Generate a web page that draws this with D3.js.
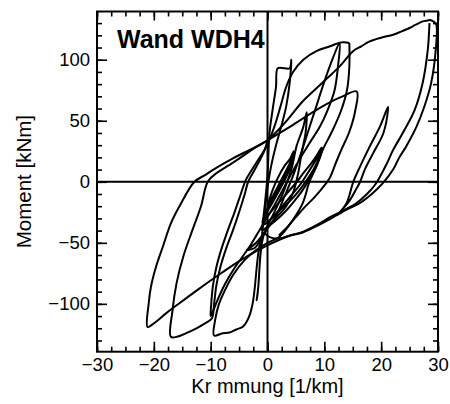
<!DOCTYPE html>
<html><head><meta charset="utf-8">
<script src="https://cdn.jsdelivr.net/npm/d3@7"></script>
<style>body{margin:0;background:#fff}svg{display:block}text{font-family:"Liberation Sans",Arial,sans-serif;fill:#000}</style>
</head><body>
<script>
const xTicks=[-30,-20,-10,0,10,20,30];
const yTicks=[-100,-50,0,50,100];
const chartTitle="Wand WDH4";
const xTitle="Kr mmung [1/km]";
const yTitle="Moment [kNm]";

const smallCycles=[[0,-20],[0.8,-8],[1.8,3],[3,13],[4,19],[4.6,25],[4.3,18],[3.5,9],[2.5,0],[1.4,-10],[0.3,-20],[-0.5,-28],[-0.9,-33],[-0.3,-25],[0.6,-15],[1.7,-5],[2.8,5],[3.8,14],[4.7,23],[4.2,14],[3.3,4],[2.2,-6],[1,-16],[-0.2,-26],[-0.8,-32],[0.5,-25],[2,-17],[3.5,-9],[5,-1],[6.3,7],[7.5,14],[8.6,21],[9.5,28],[9.1,20],[8.2,11],[7,2],[5.6,-7],[4.1,-15],[2.5,-22],[1,-29],[-0.5,-35],[0.9,-29],[2.6,-20],[4.2,-11],[5.8,-2],[7.2,8],[8.4,17],[9.6,28],[9.3,21],[8.5,12],[7.4,2],[6,-8],[4.5,-17],[3,-25],[1.4,-32],[0,-37],[-1,-40]];
const cycle100=[[-1,-40],[-0.5,-20],[0,5],[0.35,40],[0.9,59],[1.5,78],[1.8,93],[3,93],[3.9,93],[4.2,100],[3.9,81],[3.3,62],[2.4,45],[1.5,30],[0.6,12],[0,-5],[-0.5,-25],[-1,-45],[-1.3,-62],[-1.5,-78],[-1.7,-90],[-1.9,-97],[-1.6,-85],[-1.4,-70],[-1.2,-58],[-0.8,-46],[0,-36]];
const cycle57=[[0,-36],[1.5,-22],[3,-6],[4.3,12],[5.1,29],[6.3,45],[6.9,57],[6.7,40],[6,23.5],[5.4,7],[4.5,-9],[3.3,-20],[1.4,-30],[0,-38],[-1.2,-47],[-2.2,-54],[-3.7,-56]];
const cycle13=[[-3.7,-56],[-2,-50],[0,-38],[1.5,-28],[3,-12],[4.5,5],[5.8,22],[7.2,42],[8.6,62],[10,82],[11.4,100],[12.7,114],[12.4,94.5],[11.8,75],[10.6,59],[9.2,45],[7.4,31.7],[5.6,18],[4,5],[2.3,-10],[0.5,-25],[-1.2,-38],[-3,-52],[-4.5,-62],[-6,-72],[-7.5,-84],[-8.8,-97],[-9.6,-106],[-10,-110],[-9.9,-100],[-9.6,-85],[-9,-70],[-8.1,-55],[-7,-40],[-5.8,-25],[-4.7,-10],[-3.8,1.6],[-2,15.3],[-0.2,29],[1.2,45],[2.3,62],[3.3,78],[4.5,90],[6.3,100],[8.6,107],[11,111],[12.7,114],[13.5,114.3],[14.4,113.7]];
const cycle14=[[14.4,113.7],[14.4,94.5],[14,75.4],[13,59],[11.5,42.6],[9.7,26],[8.6,12.5],[7.4,0.3],[6.2,-17.5],[4.5,-31],[2.1,-45],[0,-50],[-2,-56],[-4,-64],[-6,-76],[-7.5,-89],[-8.6,-101],[-9.2,-113],[-9.4,-126],[-7.9,-124],[-6.7,-123.5],[-5.5,-121],[-4.3,-118.6],[-3.2,-110],[-2.6,-99.4],[-2.2,-85],[-1.9,-70],[-1.6,-58],[-1.2,-48],[-0.6,-42]];
const bigCycle1=[[-0.6,-42],[0.5,-45.5],[2.1,-46.5],[4,-44],[6.2,-41.5],[9,-35.5],[11,-30.5],[12.5,-26.5],[14,-22.5],[16.2,-17.5],[18.5,-9.3],[20.3,-1.1],[22.1,10],[23.2,20],[24.4,29],[26.2,45],[27.6,61.7],[28.8,81],[29.6,108],[29.7,129],[29.3,131],[28.5,132.5],[28.2,132.2],[27.3,131.4],[26,128.5],[25,126],[23.5,123],[22.1,120.5],[20,118],[18,115],[16.5,111],[15,106.8],[12.7,94.5],[10.3,84],[8,74],[6.2,66],[3,48],[0,34],[-2.5,27],[-5,19],[-7,13],[-9,7],[-10.5,0.3],[-11.7,-20],[-13.4,-42],[-14.8,-61],[-16,-83],[-16.7,-105],[-17,-127],[-15.8,-126.8],[-14.3,-124],[-12.5,-120],[-11,-116],[-9.8,-112],[-9.4,-100],[-9,-85],[-8.3,-70],[-7.3,-55],[-6.1,-40],[-5,-25],[-4,-10],[-3.4,0],[-2,12],[-0.5,26],[0,34]];
const bigCycle2=[[28.5,130],[28.2,108],[27.3,81],[25.9,59],[23.8,40],[22.1,26],[21,15],[20,6],[19,-2],[17.5,-10],[15.5,-18],[14,-22],[12.7,-25],[11,-29],[9,-34.5],[6.2,-41],[4,-44],[2.1,-47.5],[-0.2,-52.5],[-3,-59.5],[-6,-68],[-9,-77.6],[-12,-87.5],[-15.5,-99.5],[-17.8,-107.6],[-20,-116],[-21.1,-119],[-20.9,-99.5],[-20.5,-85.8],[-19.6,-69.4],[-18.4,-53],[-17,-34],[-15.2,-17.5],[-12.85,0],[-11,5.5],[-9.6,9.8],[-6,19.4],[-2.5,27.6],[0,34]];
const cycle16=[[0,34],[4.5,46.7],[8,57],[10.3,63.5],[13,69.5],[15.7,74],[15.4,57.4],[14.4,41],[13.1,27.3],[12.1,16.4],[10.9,2.7],[9.5,-6],[8,-14],[6.5,-21],[5,-29],[3.5,-37],[2,-44]];
const cycle21=[[12.3,-27],[13.9,-17.5],[15.1,0],[16.3,12.6],[18,29],[19.8,45.4],[21.2,61.2],[21.2,59],[20.4,40],[18.6,23.5],[17.1,9.8],[16.3,0],[15.6,-6],[14.5,-15],[13.5,-21],[12.3,-27]];

const cycles=[smallCycles,cycle100,cycle57,cycle13,cycle14,bigCycle1,bigCycle2,cycle16,cycle21];

const W=450,H=404;
const L=97,R=438,T=11.5,B=351.7;
const svg=d3.select("body").append("svg").attr("width",W).attr("height",H);
const x=d3.scaleLinear().domain([-30,30]).range([L,R]);
const y=d3.scaleLinear().domain([-139.2,139.5]).range([B,T]);

const line=d3.line().x(d=>x(d[0])).y(d=>y(d[1])).curve(d3.curveCatmullRom.alpha(0.5));
const g=svg.append("g");
g.append("line").attr("x1",L).attr("x2",R).attr("y1",y(0)).attr("y2",y(0)).attr("stroke","#000").attr("stroke-width",2);
g.append("line").attr("x1",x(0)).attr("x2",x(0)).attr("y1",T).attr("y2",B).attr("stroke","#000").attr("stroke-width",2);
cycles.forEach(c=>{
  g.append("path").attr("d",line(c)).attr("fill","none").attr("stroke","#000").attr("stroke-width",2).attr("stroke-linejoin","round");
});

const xMinor=d3.range(-30,30.01,2.5);
const yMinor=d3.range(-130,131,10);
function styleAxis(sel){sel.select(".domain").remove();sel.selectAll("line").attr("stroke","#000").attr("stroke-width",1.6);sel.selectAll("text").style("font-size","18.5px").attr("fill","#000");}
svg.append("g").attr("transform",`translate(0,${B})`).call(d3.axisBottom(x).tickValues(xMinor).tickSize(-5).tickFormat("")).call(styleAxis);
svg.append("g").attr("transform",`translate(0,${B})`).call(d3.axisBottom(x).tickValues(xTicks).tickSize(-10).tickPadding(6).tickFormat(d3.format("d"))).call(styleAxis);
svg.append("g").attr("transform",`translate(0,${T})`).call(d3.axisTop(x).tickValues(xMinor).tickSize(-5).tickFormat("")).call(styleAxis);
svg.append("g").attr("transform",`translate(0,${T})`).call(d3.axisTop(x).tickValues(xTicks).tickSize(-9).tickFormat("")).call(styleAxis);
svg.append("g").attr("transform",`translate(${L},0)`).call(d3.axisLeft(y).tickValues(yMinor).tickSize(-5).tickFormat("")).call(styleAxis);
svg.append("g").attr("transform",`translate(${L},0)`).call(d3.axisLeft(y).tickValues(yTicks).tickSize(-10).tickPadding(7).tickFormat(d3.format("d"))).call(styleAxis);
svg.append("g").attr("transform",`translate(${R},0)`).call(d3.axisRight(y).tickValues(yMinor).tickSize(-5).tickFormat("")).call(styleAxis);
svg.append("g").attr("transform",`translate(${R},0)`).call(d3.axisRight(y).tickValues(yTicks).tickSize(-10).tickFormat("")).call(styleAxis);

svg.append("rect").attr("x",L).attr("y",T).attr("width",R-L).attr("height",B-T).attr("fill","none").attr("stroke","#000").attr("stroke-width",2);

svg.append("text").attr("x",117).attr("y",47.5).style("font-size","25px").style("font-weight","bold").text(chartTitle);
svg.append("text").attr("x",(L+R)/2).attr("y",393).attr("text-anchor","middle").style("font-size","20px").text(xTitle);
svg.append("text").attr("transform",`translate(31,${(T+B)/2}) rotate(-90)`).attr("text-anchor","middle").style("font-size","20.5px").text(yTitle);
</script>
</body></html>
